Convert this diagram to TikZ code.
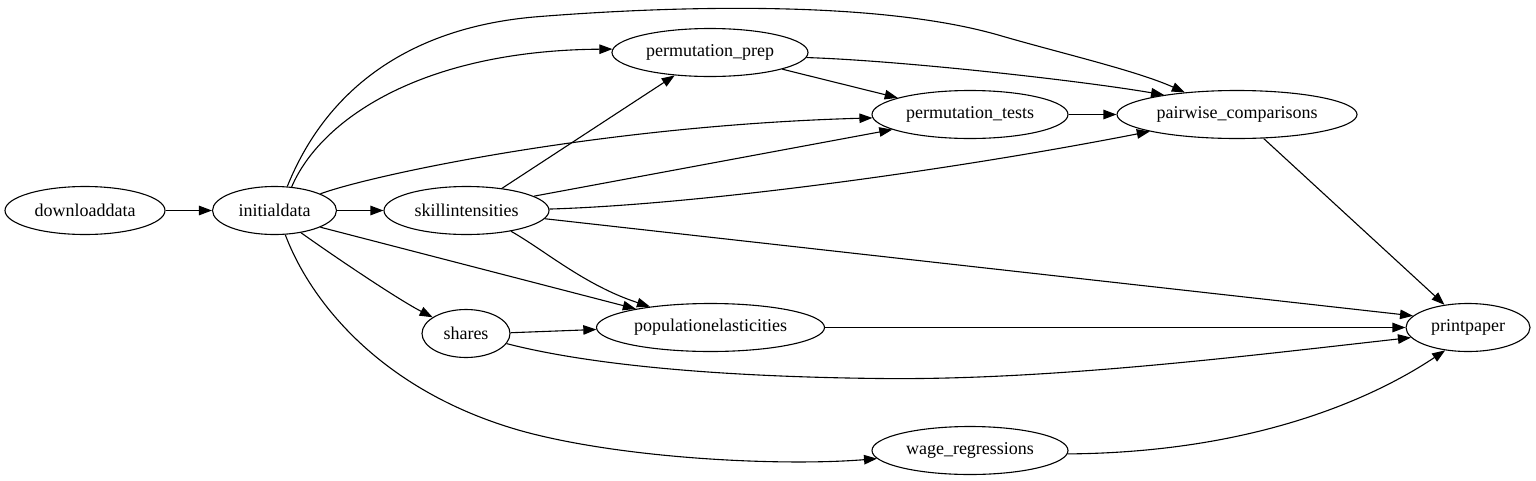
\documentclass[tikz,border=0pt]{standalone}
\usepackage{fontspec}
\setmainfont{Liberation Serif}
\usetikzlibrary{shapes.geometric,arrows.meta}
\tikzset{
  nd/.style={draw, ellipse, inner sep=0pt, line width=1.1pt, minimum height=48pt, font=\fontsize{18}{20}\selectfont},
  ed/.style={line width=1.1pt, -{Triangle[length=13pt,width=9.5pt]}}
}
\begin{document}
\begin{tikzpicture}[x=1pt,y=-1pt]
\useasboundingbox (0,-0.5) rectangle (1536,479.5);
\node[nd, minimum width=160pt] (dl) at (85,210) {downloaddata};
\node[nd, minimum width=124pt] (init) at (274.5,210) {initialdata};
\node[nd, minimum width=165pt] (skill) at (466.5,210) {skillintensities};
\node[nd, minimum width=196pt] (pprep) at (710,52) {permutation\_prep};
\node[nd, minimum width=196pt] (pt) at (970,114) {permutation\_tests};
\node[nd, minimum width=240pt] (pair) at (1237,114) {pairwise\_comparisons};
\node[nd, minimum width=88pt] (shares) at (466,333) {shares};
\node[nd, minimum width=228pt] (pop) at (710.5,327) {populationelasticities};
\node[nd, minimum width=124pt] (pp) at (1468,327) {printpaper};
\node[nd, minimum width=196pt] (wage) at (970,450) {wage\_regressions};

\draw[ed] (dl) -- (init);
\draw[ed] (init) -- (skill);
\draw[ed] (init.54) .. controls (320,120) and (420,50) .. (pprep.178);
\draw[ed] (init.62) .. controls (330,80) and (420,25) .. (540,16)
   .. controls (680,5) and (880,0) .. (1000,35)
   .. controls (1060,52.5) and (1136,70) .. (pair.157);
\draw[ed] (init.20) .. controls (370,175) and (600,125) .. (pt.182);
\draw[ed] (init.-20) -- (pop.166);
\draw[ed] (init.-40) .. controls (340,260) and (400,300) .. (shares.154);
\draw[ed] (init.-66) .. controls (310,300) and (380,390) .. (520,430)
   .. controls (620,458) and (780,466) .. (wage.185);
\draw[ed] (skill.32) -- (pprep.213);
\draw[ed] (skill.12) -- (pt.191);
\draw[ed] (skill.1) .. controls (700,204) and (950,170) .. (pair.191);
\draw[ed] (skill.-25) .. controls (545,250) and (585,285) .. (pop.161);
\draw[ed] (skill.-6) -- (pp.168);
\draw[ed] (pprep.-13) -- (pt.167);
\draw[ed] (pprep.-3) .. controls (900,60) and (1080,80) .. (pair.165);
\draw[ed] (pt) -- (pair);
\draw[ed] (pair.-42) -- (pp.136);
\draw[ed] (shares.1) -- (pop.181.5);
\draw[ed] (shares.-14) .. controls (580,362) and (700,376) .. (880,378)
   .. controls (1050,380) and (1250,355) .. (pp.190);
\draw[ed] (pop) -- (pp);
\draw[ed] (wage.-2) .. controls (1250,452) and (1370,400) .. (pp.225);
\end{tikzpicture}
\end{document}
